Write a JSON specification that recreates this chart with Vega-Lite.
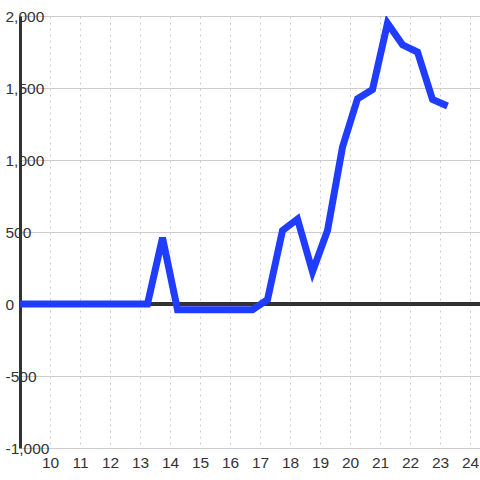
{
  "$schema": "https://vega.github.io/schema/vega-lite/v6.json",
  "autosize": "none",
  "width": 460,
  "height": 432,
  "padding": {"left": 20, "top": 16, "right": 0, "bottom": 32},
  "background": "#ffffff",
  "config": {
    "view": {"stroke": null},
    "font": "Liberation Sans",
    "axis": {"labelFont": "Liberation Sans", "labelFontSize": 15.5, "labelColor": "#333333", "gridColor": "#cccccc", "gridWidth": 1}
  },
  "data": {
    "values": [
      {"x": 8.75, "v": 0},
      {"x": 9.25, "v": 0},
      {"x": 9.75, "v": 0},
      {"x": 10.25, "v": 0},
      {"x": 10.75, "v": 0},
      {"x": 11.25, "v": 0},
      {"x": 11.75, "v": 0},
      {"x": 12.25, "v": 0},
      {"x": 12.75, "v": 0},
      {"x": 13.25, "v": 0},
      {"x": 13.75, "v": 460},
      {"x": 14.25, "v": -40},
      {"x": 14.75, "v": -40},
      {"x": 15.25, "v": -40},
      {"x": 15.75, "v": -40},
      {"x": 16.25, "v": -40},
      {"x": 16.75, "v": -40},
      {"x": 17.25, "v": 30},
      {"x": 17.75, "v": 510},
      {"x": 18.25, "v": 590},
      {"x": 18.75, "v": 225},
      {"x": 19.25, "v": 510},
      {"x": 19.75, "v": 1090},
      {"x": 20.25, "v": 1425},
      {"x": 20.75, "v": 1490},
      {"x": 21.25, "v": 1950},
      {"x": 21.75, "v": 1800},
      {"x": 22.25, "v": 1750},
      {"x": 22.75, "v": 1420},
      {"x": 23.25, "v": 1375}
    ]
  },
  "layer": [
    {
      "mark": {"type": "rule", "color": "#333333", "strokeWidth": 3},
      "encoding": {"y": {"datum": 0, "type": "quantitative"}}
    },
    {
      "mark": {"type": "line", "color": "#1f3cff", "strokeWidth": 7, "strokeJoin": "miter", "strokeCap": "butt", "clip": true},
      "encoding": {
        "x": {
          "field": "x", "type": "quantitative",
          "scale": {"domain": [9, 24.333], "nice": false, "zero": false},
          "axis": {
            "title": null, "values": [10, 11, 12, 13, 14, 15, 16, 17, 18, 19, 20, 21, 22, 23, 24],
            "domain": false, "ticks": false, "tickSize": 0, "labelPadding": 7,
            "grid": true, "gridDash": [2, 4], "labelFlush": false
          }
        },
        "y": {
          "field": "v", "type": "quantitative",
          "scale": {"domain": [-1000, 2000], "nice": false},
          "axis": {
            "title": null,
            "values": [-1000, -750, -500, -250, 0, 250, 500, 750, 1000, 1250, 1500, 1750, 2000],
            "labelExpr": "datum.value % 500 == 0 ? replace(format(datum.value, ','), '\u2212', '-') : ''",
            "domain": true, "domainColor": "#333333", "domainWidth": 3,
            "ticks": false, "tickSize": 0, "labelPadding": 15, "labelAlign": "left",
            "labelOverlap": false, "labelBound": false, "labelFlush": false,
            "grid": true
          }
        }
      }
    }
  ]
}
